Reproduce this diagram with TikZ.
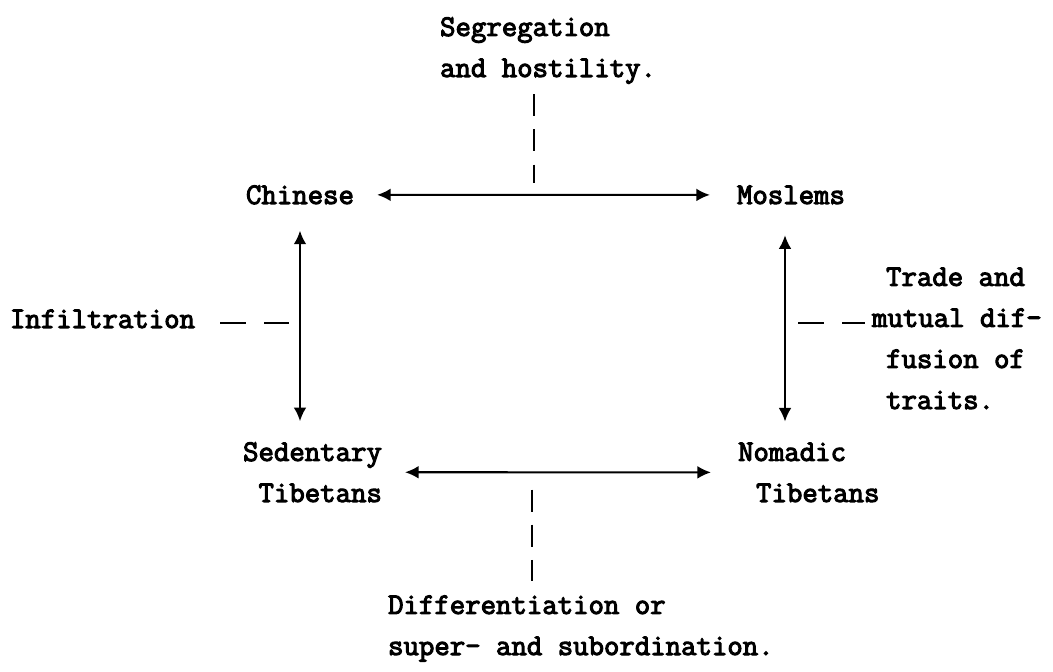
\documentclass[tikz,border=0pt]{standalone}
\usepackage{fontspec}
\newfontfamily\typer{Latin Modern Mono}[FakeBold=3.5]
\usepackage{tikz}
\usetikzlibrary{arrows.meta,calc}
\tikzset{
  typed/.style={font=\typer\fontsize{21.3}{29.2}\selectfont,inner sep=2pt},
  flow/.style={{Latex[length=3.4mm,width=3.2mm]}-{Latex[length=3.4mm,width=3.2mm]},line width=1.5pt,shorten <=0.5cm,shorten >=0.6cm},
  linkv/.style={dash pattern=on 0.55cm off 0.33cm,line width=1.5pt},
  linkh/.style={dash pattern=on 0.65cm off 0.45cm,line width=1.5pt},
}

\begin{document}
\begin{tikzpicture}
	\useasboundingbox (0,0) rectangle (26.325,16.8);
	\node[typed,anchor=base] (chinese) at (7.5,11.7) {Chinese};
	\node[typed,anchor=base] (moslems) at (19.775,11.7) {Moslems};
	\node[typed,anchor=base east,align=right] (sedentary) at (9.625,4.25) {Sedentary\\Tibetans};
	\node[typed,anchor=base west,align=left] (nomadic) at (18.375,4.25) {Nomadic\\\hspace*{0.45cm}Tibetans};
	\node[typed,anchor=base west,align=left] (segreg) at (10.925,14.875) {Segregation\\and hostility.};
	\node[typed,anchor=base] (infil) at (2.5625,8.6) {Infiltration};
	\node[typed,anchor=base west,align=left] (trade) at (22.075,6.575) {Trade and\\\hspace*{-0.35cm}mutual dif-\\fusion of\\traits.};
	\node[typed,anchor=base west,align=left] (differ) at (9.625,0.425) {Differentiation or\\super- and subordination.};
	\draw[flow] (chinese) -- coordinate[pos=.47] (topmid) (moslems);
	\draw[flow] (sedentary) -- coordinate[pos=.42] (botmid) (nomadic);
	\draw[flow,shorten <=0.58cm,shorten >=0.45cm] (chinese.south) -- coordinate[pos=.5] (leftmid) (chinese.south |- sedentary.north);
	\draw[flow,shorten <=0.7cm,shorten >=0.45cm] ([xshift=-0.15cm]moslems.south) -- coordinate[pos=.5] (rightmid) ([xshift=-0.15cm]moslems.south |- nomadic.north);
	\draw[linkv,shorten <=0.18cm,shorten >=0.3cm] (topmid |- segreg.south) -- (topmid);
	\draw[linkv,shorten <=0.43cm,shorten >=0.28cm] (botmid) -- (botmid |- differ.north);
	\draw[linkh,shorten <=0.55cm,shorten >=0.28cm] (leftmid -| infil.east) -- (leftmid);
	\draw[linkh,shorten <=0.33cm,shorten >=0.45cm] (rightmid) -- (rightmid -| trade.west);
\end{tikzpicture}
\end{document}
